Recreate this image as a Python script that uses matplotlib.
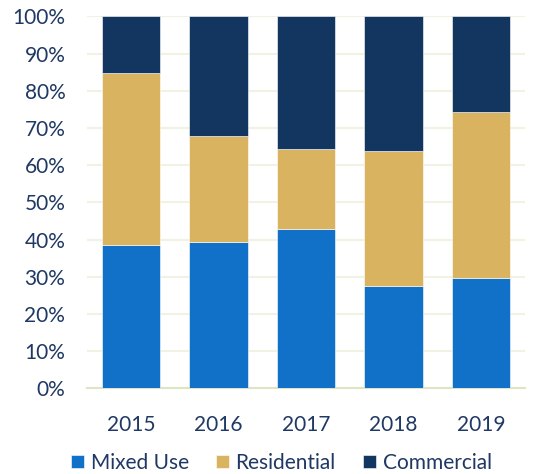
import matplotlib
matplotlib.use("Agg")
import matplotlib.pyplot as plt
import numpy as np

years = ["2015", "2016", "2017", "2018", "2019"]
mixed_use = [38.4, 39.2, 42.8, 27.6, 29.6]
residential = [46.3, 28.7, 21.5, 36.3, 44.6]
commercial = [15.3, 32.1, 35.7, 36.1, 25.8]
series_names = ["Mixed Use", "Residential", "Commercial"]
colors = ["#1170C8", "#D9B360", "#133660"]
text_color = "#1F3864"

plt.rcParams['font.family'] = ['Lato', 'DejaVu Sans']

fig = plt.figure(figsize=(5.41, 4.74), dpi=100)
ax = fig.add_axes([0.1617, 0.1808, 0.8083, 0.7848])

x = np.arange(len(years))
bottom = np.zeros(len(years))
for vals, name, c in zip([mixed_use, residential, commercial], series_names, colors):
    ax.bar(x, vals, bottom=bottom, width=0.667, color=c, label=name,
           edgecolor="white", linewidth=0.4, zorder=3)
    bottom += np.array(vals)

ax.set_xlim(-0.5, len(years) - 0.5)
ax.set_ylim(0, 100)
ax.set_yticks(np.arange(0, 101, 10))
ax.set_yticklabels([f"{v}%" for v in range(0, 101, 10)])
ax.set_xticks(x)
ax.set_xticklabels(years)
ax.yaxis.grid(True, color="#F1F1E4", linewidth=1.5, zorder=0)
ax.set_axisbelow(True)
for s in ["top", "right", "left"]:
    ax.spines[s].set_visible(False)
ax.spines["bottom"].set_color("#DDE5C4")
ax.spines["bottom"].set_linewidth(1.5)
ax.tick_params(axis="both", length=0, labelsize=15, colors=text_color)
ax.tick_params(axis="y", pad=16)
ax.tick_params(axis="x", pad=19)

leg = fig.legend(loc="lower center", bbox_to_anchor=(0.52, -0.037), ncol=3, frameon=False,
                 fontsize=15, handlelength=0.65, handleheight=0.65, handletextpad=0.3,
                 columnspacing=1.3, labelcolor=text_color)

fig.savefig("out.png", dpi=100)
